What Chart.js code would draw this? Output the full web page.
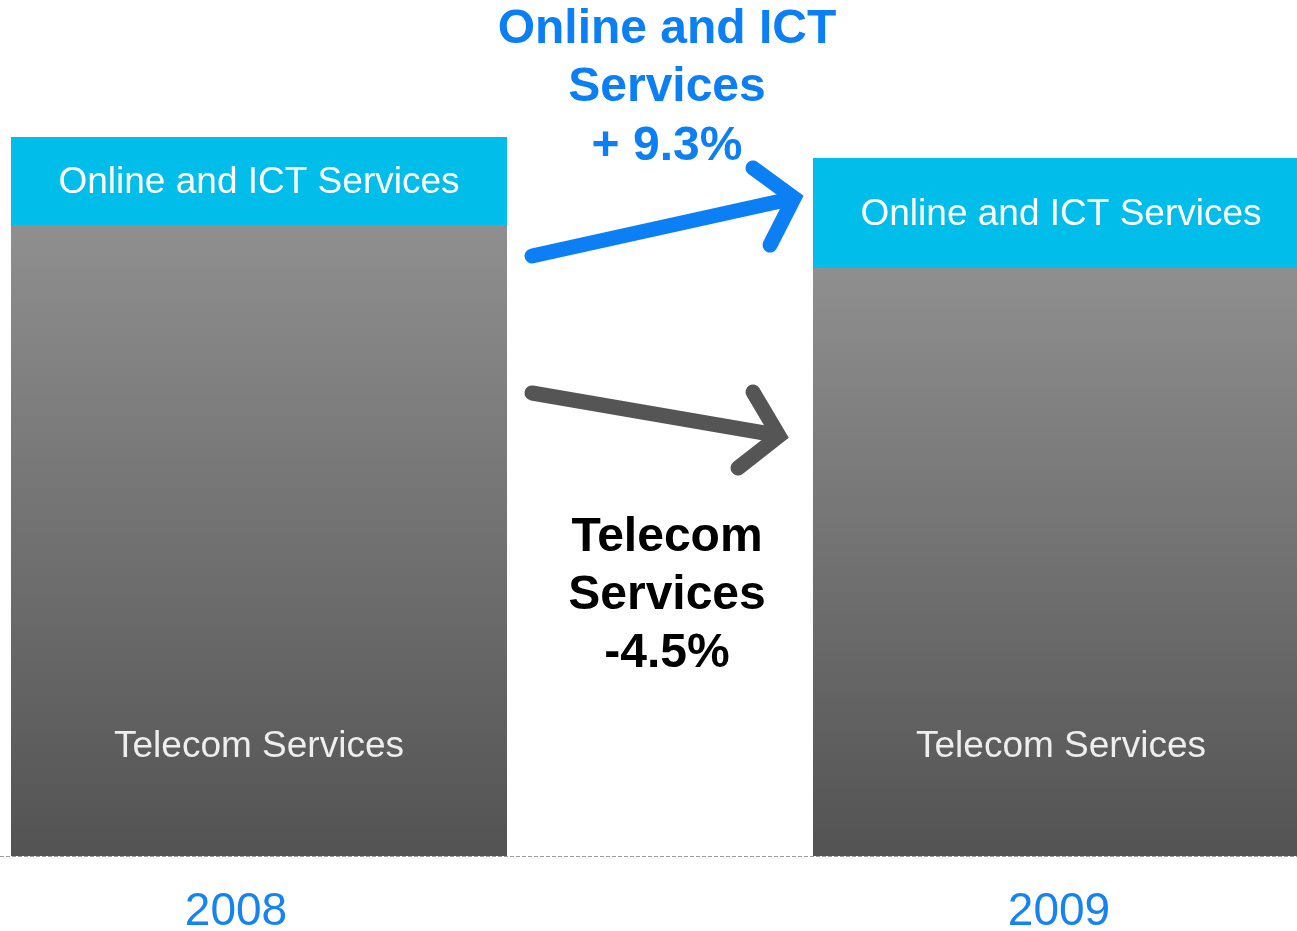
<!DOCTYPE html>
<html>
<head>
<meta charset="utf-8">
<script src="https://cdn.jsdelivr.net/npm/chart.js@4/dist/chart.umd.min.js"></script>
<style>
  html, body { margin: 0; padding: 0; background: #ffffff; overflow: hidden; }
  #c { display: block; }
</style>
</head>
<body>
<canvas id="c" width="1297" height="931"></canvas>
<script>
// ---- Data ----
const years = [2008, 2009];
const yearLabels = ['2008', '2009'];
const telecomServices = [631, 588];   // grey segment heights
const onlineICT = [88, 110];          // cyan segment heights
const seriesNames = ['Telecom Services', 'Online and ICT Services'];
const onlineChangeText = ['Online and ICT', 'Services', '+ 9.3%'];
const telecomChangeText = ['Telecom', 'Services', '-4.5%'];

// ---- Styling ----
const FONT = '"Liberation Sans", Arial, Helvetica, sans-serif';
const CYAN = '#00bee9';
const BLUE = '#0b7ff3';
const GREY_ARROW = '#555555';

// Where the year labels sit relative to the bar centres (fraction of one category step)
const labelShift = [-0.0287, -0.0025];

const baselinePlugin = {
  id: 'dashedBaseline',
  beforeDatasetsDraw(chart) {
    const c = chart.ctx;
    const y = Math.round(chart.scales.y.getPixelForValue(0)) + 0.5;
    c.save();
    c.strokeStyle = '#9a9a9a';
    c.lineWidth = 1;
    c.setLineDash([4, 2]);
    c.beginPath();
    c.moveTo(0, y);
    c.lineTo(chart.width, y);
    c.stroke();
    c.restore();
  }
};

const annotationPlugin = {
  id: 'annotations',
  afterDatasetsDraw(chart) {
    const c = chart.ctx;
    const m0 = chart.getDatasetMeta(0);
    const m1 = chart.getDatasetMeta(1);
    c.save();
    c.textAlign = 'center';
    c.textBaseline = 'middle';
    // labels in bars
    c.save();
    c.beginPath();
    c.rect(chart.chartArea.left, chart.chartArea.top, chart.chartArea.right - chart.chartArea.left, chart.chartArea.bottom - chart.chartArea.top);
    c.clip();
    m1.data.forEach(el => {
      c.fillStyle = '#ffffff';
      c.font = '37px ' + FONT;
      c.fillText(seriesNames[1], el.x, (el.y + el.base) / 2 + 2);
    });
    m0.data.forEach(el => {
      c.fillStyle = '#eeeeee';
      c.font = '37px ' + FONT;
      c.fillText(seriesNames[0], el.x, el.base - 109);
    });
    c.restore();

    // arrows
    const drawArrow = (color, width, shaft, head) => {
      c.save();
      c.strokeStyle = color;
      c.lineWidth = width;
      c.lineCap = 'round';
      c.lineJoin = 'miter';
      c.miterLimit = 10;
      c.beginPath();
      c.moveTo(shaft[0], shaft[1]);
      c.lineTo(shaft[2], shaft[3]);
      c.stroke();
      c.beginPath();
      c.moveTo(head[0], head[1]);
      c.lineTo(head[2], head[3]);
      c.lineTo(head[4], head[5]);
      c.stroke();
      c.restore();
    };
    drawArrow(BLUE, 15, [532, 256, 790, 199], [753, 168, 794, 198, 770, 245]);
    drawArrow(GREY_ARROW, 15, [532, 393, 776, 435], [753, 392, 779, 436, 738, 468]);

    // change texts
    c.font = 'bold 48px ' + FONT;
    c.fillStyle = BLUE;
    [30, 88, 147].forEach((y, i) => c.fillText(onlineChangeText[i], 667, y));
    c.fillStyle = '#000000';
    [538, 596, 654].forEach((y, i) => c.fillText(telecomChangeText[i], 667, y));
    c.restore();
  }
};

const telecomGradient = (ctx) => {
  const chart = ctx.chart;
  if (!chart.chartArea || !ctx.raw) return '#707070';
  const ys = chart.scales.y;
  const top = ys.getPixelForValue(ctx.raw.y);
  const bottom = ys.getPixelForValue(0);
  const g = chart.ctx.createLinearGradient(0, top, 0, bottom);
  g.addColorStop(0, '#8f8f8f');
  g.addColorStop(1, '#535353');
  return g;
};

new Chart(document.getElementById('c'), {
  type: 'bar',
  data: {
    datasets: [
      {
        label: seriesNames[0],
        data: years.map((yr, i) => ({ x: yr, y: telecomServices[i] })),
        backgroundColor: telecomGradient,
        borderWidth: 0,
        categoryPercentage: 1,
        barPercentage: 0.6185
      },
      {
        label: seriesNames[1],
        data: years.map((yr, i) => ({ x: yr, y: onlineICT[i] })),
        backgroundColor: CYAN,
        borderWidth: 0,
        categoryPercentage: 1,
        barPercentage: 0.6185
      }
    ]
  },
  options: {
    responsive: false,
    animation: false,
    events: [],
    layout: { padding: 0 },
    plugins: {
      legend: { display: false },
      tooltip: { enabled: false },
      title: { display: false }
    },
    scales: {
      x: {
        type: 'linear',
        stacked: true,
        offset: false,
        min: 2008 - 0.32294,
        max: 2009 + 0.29426,
        grid: { display: false, drawTicks: false },
        border: { display: false },
        afterBuildTicks(scale) {
          scale.ticks = years.map((yr, i) => ({ value: yr + labelShift[i] }));
        },
        afterFit(scale) { scale.height = 75; },
        ticks: {
          padding: 29,
          color: '#1783f0',
          font: { family: FONT, size: 46 },
          autoSkip: false,
          maxRotation: 0,
          callback: (value) => yearLabels[years.indexOf(Math.round(value))] || ''
        }
      },
      y: {
        stacked: true,
        display: false,
        min: 0,
        max: 856
      }
    }
  },
  plugins: [baselinePlugin, annotationPlugin]
});
</script>
</body>
</html>
